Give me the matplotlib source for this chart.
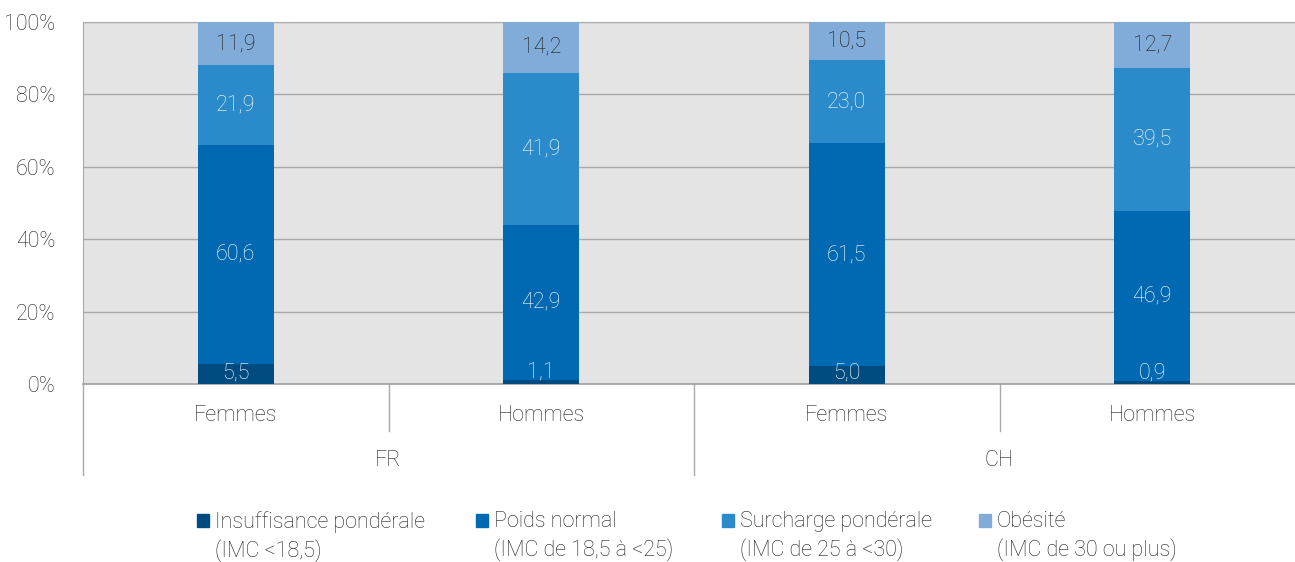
import numpy as np
import matplotlib.pyplot as plt
from matplotlib.patches import Rectangle

plt.rcParams['font.family'] = ['Roboto', 'DejaVu Sans']
plt.rcParams['font.weight'] = 'light'

pays = ["FR", "CH"]
sexes = ["Femmes", "Hommes", "Femmes", "Hommes"]
categories = ["Insuffisance pondérale\n(IMC <18,5)",
              "Poids normal\n(IMC de 18,5 à <25)",
              "Surcharge pondérale\n(IMC de 25 à <30)",
              "Obésité\n(IMC de 30 ou plus)"]
insuffisance = [5.5, 1.1, 5.0, 0.9]
normal = [60.6, 42.9, 61.5, 46.9]
surcharge = [21.9, 41.9, 23.0, 39.5]
obesite = [11.9, 14.2, 10.5, 12.7]

colors = ["#004b80", "#0069b1", "#2b8bca", "#81acd9"]
text_colors = ["white", "white", "white", "#1a1a1a"]
series = [insuffisance, normal, surcharge, obesite]
fs = 15.5

fig = plt.figure(figsize=(12.95, 5.62), dpi=100)
ax = fig.add_axes([83 / 1295, 178 / 562, 1222 / 1295, 362 / 562])
ax.set_facecolor("#e4e4e4")

x = np.arange(len(sexes))
bottom = np.zeros(len(sexes))
for vals, col, tcol in zip(series, colors, text_colors):
    vals = np.array(vals)
    ax.bar(x, vals, 0.25, bottom=bottom, color=col, zorder=3)
    for xi, b, v in zip(x, bottom, vals):
        y = max(b + v / 2, 3.0)
        ax.text(xi, y, f"{v:.1f}".replace(".", ","), ha="center", va="center",
                color=tcol, fontsize=fs, zorder=4)
    bottom += vals

ax.set_xlim(-0.5, len(sexes) - 0.5)
ax.set_ylim(0, 100)
ax.set_yticks(np.arange(0, 101, 20))
ax.set_yticklabels([f"{v}%" for v in range(0, 101, 20)])
ax.yaxis.grid(True, color="#a9a9a9", linewidth=1, zorder=0)
ax.tick_params(axis="y", length=0, pad=20, labelsize=fs, labelcolor="#1f1f1f")
ax.tick_params(axis="x", length=0, pad=15, labelsize=fs, labelcolor="#1f1f1f")
ax.set_xticks(x)
ax.set_xticklabels(sexes)

for side in ["left", "top", "right"]:
    ax.spines[side].set_color("#a9a9a9")
ax.spines["bottom"].set_color("#a0a0a0")
ax.spines["bottom"].set_linewidth(1.2)

# separators below the axis: short between sexes, long between countries
trans = ax.get_xaxis_transform()
for pos in [0.5, 2.5]:
    ax.plot([pos, pos], [0, -0.13], transform=trans, color="#a9a9a9",
            linewidth=1, clip_on=False)
for pos in [-0.5, 1.5]:
    ax.plot([pos, pos], [0, -0.25], transform=trans, color="#a9a9a9",
            linewidth=1, clip_on=False)
for i, p in enumerate(pays):
    ax.text(2 * i + 0.5, -0.21, p, transform=trans, ha="center", va="center",
            fontsize=fs, color="#1f1f1f")

# legend
legend_x = [197, 476, 722, 979]
for lx, col, lab in zip(legend_x, colors, categories):
    fig.patches.append(Rectangle((lx / 1295, (562 - 527) / 562), 12 / 1295, 13 / 562,
                                 transform=fig.transFigure, color=col))
    fig.text((lx + 18) / 1295, (562 - 511) / 562, lab, ha="left", va="top",
             fontsize=fs, color="#1f1f1f", linespacing=1.36)

fig.savefig("out.png", dpi=100)
